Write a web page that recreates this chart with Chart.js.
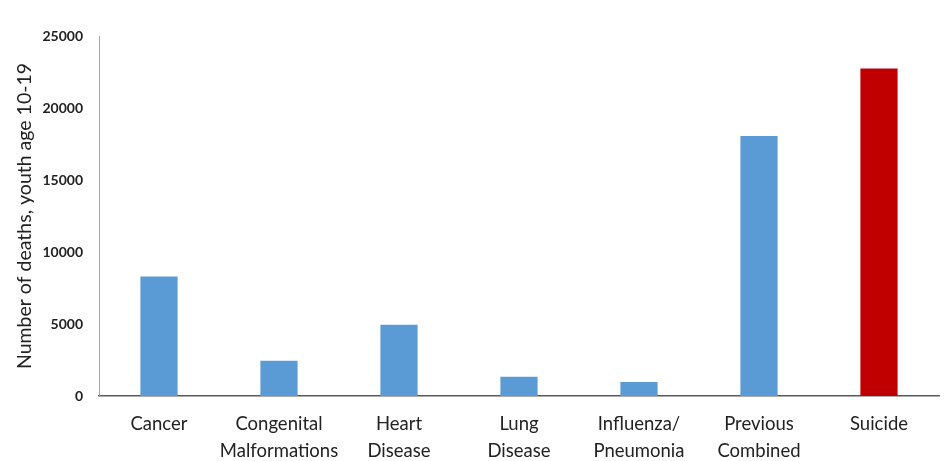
<!DOCTYPE html>
<html>
<head>
<meta charset="utf-8">
<script src="https://cdn.jsdelivr.net/npm/chart.js@4/dist/chart.umd.min.js"></script>
<style>
  html, body { margin: 0; padding: 0; background: #fff; }
  #wrap { width: 945px; height: 461px; }
</style>
</head>
<body>
<div id="wrap"><canvas id="deathsChart" width="945" height="461"></canvas></div>
<script>
// DATA
const CATEGORIES = [
    ['Cancer'],
    ['Congenital', 'Malformations'],
    ['Heart', 'Disease'],
    ['Lung', 'Disease'],
    ['Influenza/', 'Pneumonia'],
    ['Previous', 'Combined'],
    ['Suicide']
];
const DEATHS = [8300, 2450, 4950, 1330, 980, 18050, 22750];
const Y_TICKS = [0, 5000, 10000, 15000, 20000, 25000];
const Y_TITLE = 'Number of deaths, youth age 10-19';

const BLUE = '#5B9BD5';
const RED = '#C00000';
const FONT = 'Lato, "Open Sans", sans-serif';

var ctx = document.getElementById('deathsChart');
var myChart = new Chart(ctx, {
    type: 'bar',
    data: {
        labels: CATEGORIES,
        datasets: [{
            label: 'Deaths',
            data: DEATHS,
            backgroundColor: DEATHS.map((v, i) => i === DEATHS.length - 1 ? RED : BLUE),
            borderWidth: 0,
            categoryPercentage: 1.0,
            barPercentage: 0.31
        }]
    },
    options: {
        responsive: false,
        animation: false,
        layout: { padding: { top: 36, right: 6, left: 0, bottom: 0 } },
        plugins: {
            legend: { display: false },
            tooltip: { enabled: false }
        },
        scales: {
            x: {
                grid: { display: false, drawTicks: false },
                border: { display: true, color: '#595959', width: 1.5 },
                ticks: {
                    color: '#222',
                    font: { family: FONT, size: 18.5, lineHeight: 1.45 },
                    padding: 15,
                    maxRotation: 0,
                    autoSkip: false
                },
                afterFit: scale => { scale.height = 65; }
            },
            y: {
                min: 0,
                max: 25000,
                afterBuildTicks: scale => { scale.ticks = Y_TICKS.map(v => ({ value: v })); },
                grid: { display: false, drawTicks: false },
                border: { display: true, color: '#a6a6a6', width: 1 },
                ticks: {
                    color: '#222',
                    font: { family: FONT, size: 14, weight: 'bold' },
                    padding: 16,
                    callback: v => String(v)
                },
                title: {
                    display: true,
                    text: Y_TITLE,
                    color: '#222',
                    font: { family: FONT, size: 19.5 },
                    padding: { top: 13, bottom: 4 }
                },
                afterFit: scale => { scale.width = 99; }
            }
        }
    }
});
</script>
</body>
</html>
